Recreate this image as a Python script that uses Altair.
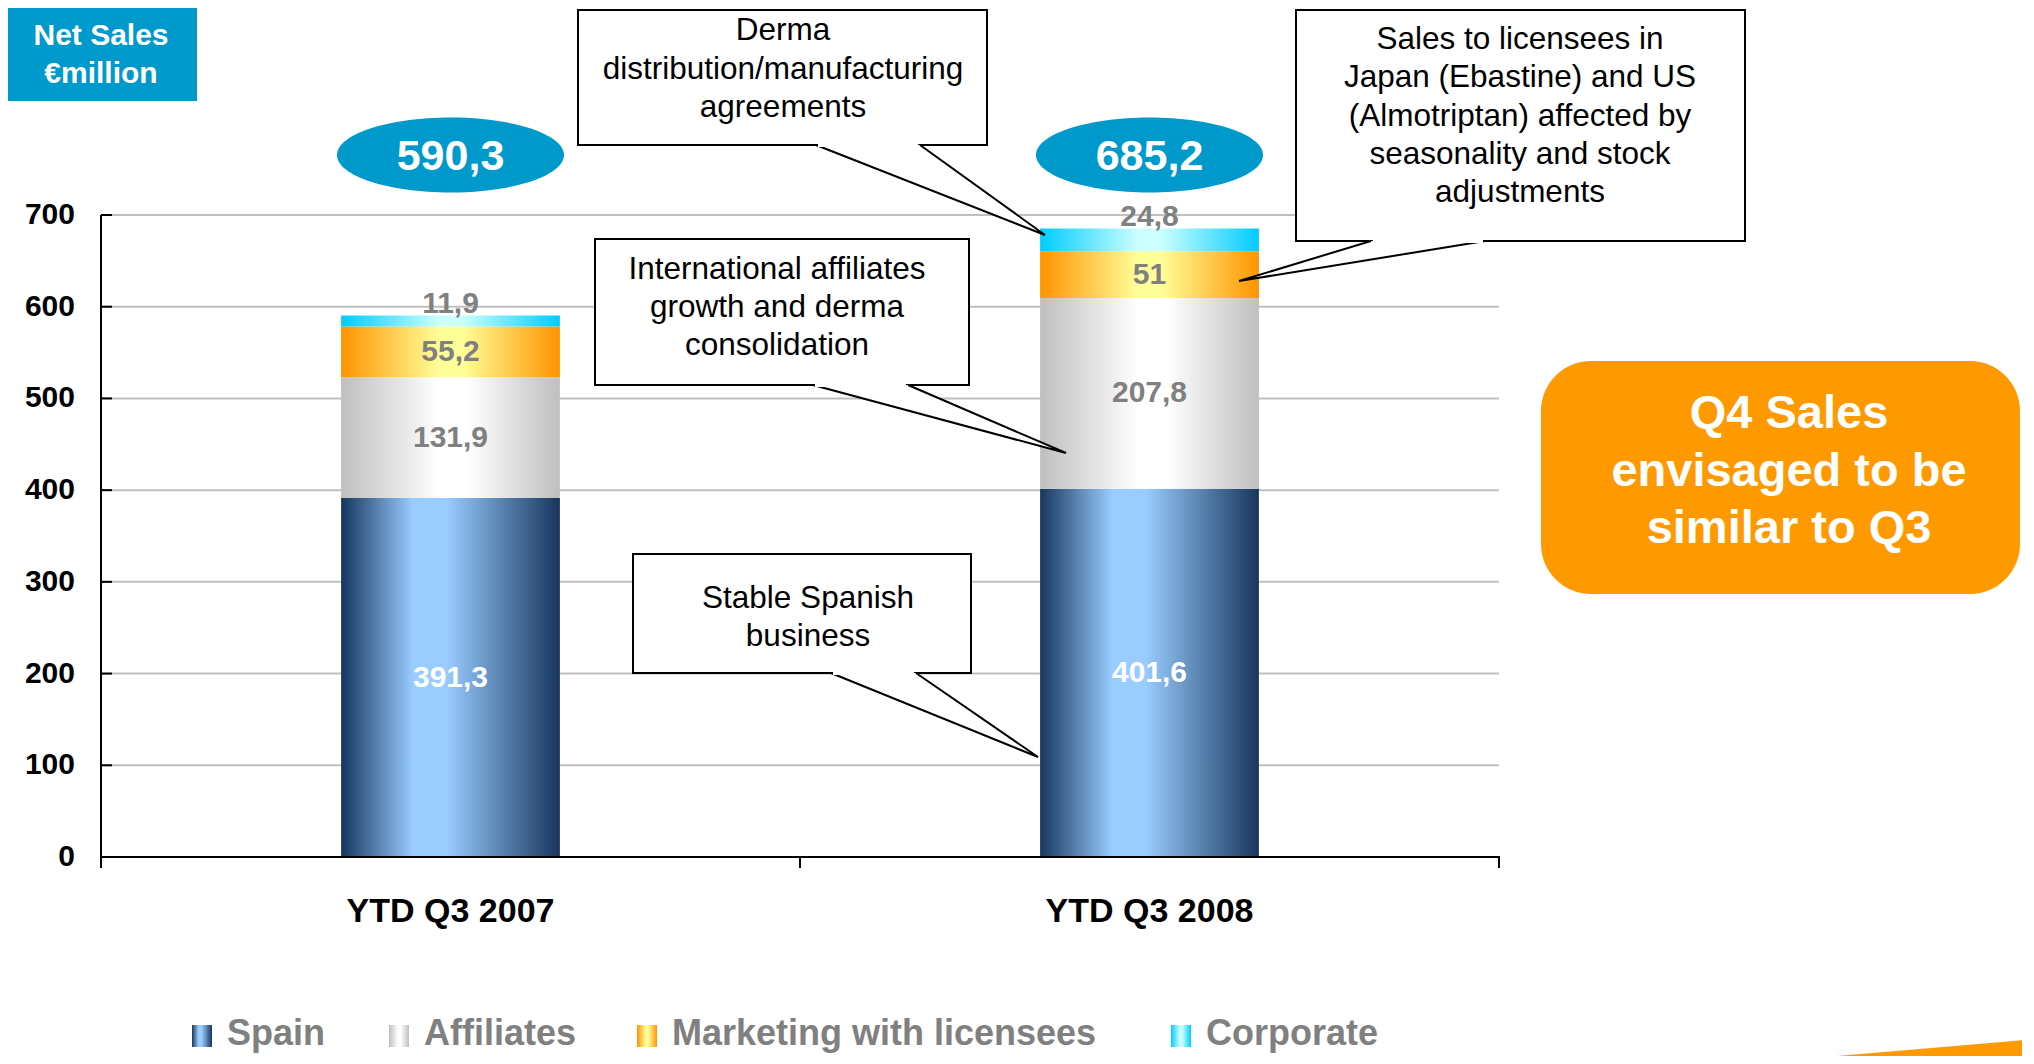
import altair as alt
import pandas as pd

# ---------------- data ----------------
categories = ["YTD Q3 2007", "YTD Q3 2008"]
series = ["Spain", "Affiliates", "Marketing with licensees", "Corporate"]
spain = [391.3, 401.6]
affiliates = [131.9, 207.8]
marketing = [55.2, 51.0]
corporate = [11.9, 24.8]
y_ticks = [0, 100, 200, 300, 400, 500, 600, 700]

callout_texts = [
    ["Derma", "distribution/manufacturing", "agreements"],
    ["Sales to licensees in", "Japan (Ebastine) and US", "(Almotriptan) affected by",
     "seasonality and stock", "adjustments"],
    ["International affiliates", "growth and derma", "consolidation"],
    ["Stable Spanish", "business"],
]
side_note = ["Q4 Sales", "envisaged to be", "similar to Q3"]
unit_title = ["Net Sales", "€million"]

# ---------------- layout (pixels inside the plot area) ----------------
W, H = 1398, 642
FONT = "Liberation Sans"
# x0, x1, y0, y1, tail base left, tail base right, tip x, tip y, text x, first line y, line height
callout_layout = [
    (477, 886, -205, -70, 715, 819, 944, 20, 682, -184, 38.5),
    (1195, 1644, -205, 26, 1270, 1384, 1138, 66, 1419, -175, 38.3),
    (494, 868, 24, 170, 712, 807, 965, 238, 676, 55, 38),
    (532, 870, 339, 458, 730, 815, 937, 542, 707, 384, 38),
]
legend_x = [91, 288, 536, 1070]

rows = []
for si, (s, vals) in enumerate(zip(series, [spain, affiliates, marketing, corporate])):
    for c, v in zip(categories, vals):
        rows.append({"category": c, "series": s, "order": si, "value": v,
                     "label": ("%g" % v).replace(".", ",")})
df = pd.DataFrame(rows)


def grad(edge, mid, lo=0.42, hi=0.55):
    return alt.LinearGradient(
        gradient="linear", x1=0, y1=0, x2=1, y2=0,
        stops=[alt.GradientStop(offset=0, color=edge),
               alt.GradientStop(offset=lo, color=mid),
               alt.GradientStop(offset=hi, color=mid),
               alt.GradientStop(offset=1, color=edge)])


grads = [
    grad("#17365D", "#99CCFF", 0.33, 0.48),
    grad("#BFBFBF", "#FFFFFF", 0.45, 0.58),
    grad("#FF9400", "#FFFF99", 0.45, 0.55),
    grad("#00CCFF", "#CCFFFF", 0.45, 0.55),
]

x_scale = alt.Scale(domain=categories, paddingInner=0.687, paddingOuter=0.3435)
y_scale = alt.Scale(domain=[0, 700], nice=False, zero=True)
X_CAT = alt.X("category:N", scale=x_scale, sort=categories, axis=None)

layers = []
dummy = pd.DataFrame({"d": [0]})
ytick_df = pd.DataFrame({"t": y_ticks})
cat_df = pd.DataFrame({"category": categories})

# gridlines
layers.append(
    alt.Chart(ytick_df).mark_rule(color="#C0C0C0", strokeWidth=2).encode(
        y=alt.Y("t:Q", scale=y_scale, axis=None),
        x=alt.value(0), x2=alt.value(W))
)

base = alt.Chart(df).transform_stack(
    stack="value", groupby=["category"], as_=["y0", "y1"],
    sort=[alt.SortField("order", order="ascending")])

# bars
for i, s in enumerate(series):
    layers.append(
        base.transform_filter(alt.datum.series == s)
        .mark_bar(fill=grads[i], strokeWidth=0)
        .encode(
            x=X_CAT,
            y=alt.Y("y0:Q", scale=y_scale, axis=None),
            y2="y1:Q",
        )
    )

# axis lines
layers.append(
    alt.Chart(dummy).mark_rule(color="black", strokeWidth=2).encode(
        x=alt.value(0), y=alt.value(0), y2=alt.value(H + 1))
)
layers.append(
    alt.Chart(dummy).mark_rule(color="black", strokeWidth=2).encode(
        x=alt.value(-1), x2=alt.value(W + 1), y=alt.value(H))
)
# inward y ticks
layers.append(
    alt.Chart(ytick_df).mark_rule(color="black", strokeWidth=2).encode(
        y=alt.Y("t:Q", scale=y_scale, axis=None),
        x=alt.value(0), x2=alt.value(11))
)
# x ticks at band boundaries
xtick_df = pd.DataFrame({"px": [0, W / 2, W]})
layers.append(
    alt.Chart(xtick_df).mark_rule(color="black", strokeWidth=2).encode(
        x=alt.X("px:Q", scale=None), y=alt.value(H), y2=alt.value(H + 11))
)
# y tick labels
layers.append(
    alt.Chart(ytick_df).mark_text(font=FONT, fontSize=30, fontWeight="bold",
                                  color="black", align="right", baseline="middle").encode(
        y=alt.Y("t:Q", scale=y_scale, axis=None),
        x=alt.value(-26), text="t:Q")
)
# category labels
layers.append(
    alt.Chart(cat_df).mark_text(font=FONT, fontSize=34, fontWeight="bold",
                                color="black", baseline="middle").encode(
        x=X_CAT, y=alt.value(697), text="category:N")
)

# segment labels
layers.append(
    base.transform_filter(alt.datum.series != "Corporate")
    .transform_calculate(mid="(datum.y0 + datum.y1) / 2")
    .mark_text(font=FONT, fontSize=30, fontWeight="bold", baseline="middle")
    .encode(
        x=X_CAT,
        y=alt.Y("mid:Q", scale=y_scale, axis=None),
        text="label:N",
        color=alt.Color("series:N", scale=alt.Scale(
            domain=series, range=["#FFFFFF", "#808080", "#808080", "#808080"]), legend=None),
    )
)
layers.append(
    base.transform_filter(alt.datum.series == "Corporate")
    .mark_text(font=FONT, fontSize=30, fontWeight="bold", baseline="middle",
               dy=-12, color="#808080")
    .encode(
        x=X_CAT,
        y=alt.Y("y1:Q", scale=y_scale, axis=None),
        text="label:N",
    )
)

# callout boxes
cdf = pd.DataFrame([
    {"id": i, "x0": c[0], "x1": c[1], "y0": c[2], "y1": c[3],
     "bl": c[4] + 2, "br": c[5] - 2}
    for i, c in enumerate(callout_layout)])
layers.append(
    alt.Chart(cdf).mark_rect(fill="white", stroke="black", strokeWidth=2).encode(
        x=alt.X("x0:Q", scale=None), x2="x1:Q",
        y=alt.Y("y0:Q", scale=None), y2="y1:Q")
)
tail_rows = []
for i, c in enumerate(callout_layout):
    tail_rows += [
        {"id": i, "o": 0, "px": c[4], "py": c[3]},
        {"id": i, "o": 1, "px": c[6], "py": c[7]},
        {"id": i, "o": 2, "px": c[5], "py": c[3]},
    ]
tdf = pd.DataFrame(tail_rows)
layers.append(
    alt.Chart(tdf).mark_line(fill="white", stroke="black", strokeWidth=2,
                             strokeJoin="miter").encode(
        x=alt.X("px:Q", scale=None), y=alt.Y("py:Q", scale=None),
        detail="id:N", order="o:Q")
)
layers.append(
    alt.Chart(cdf).mark_rule(color="white", strokeWidth=4).encode(
        x=alt.X("bl:Q", scale=None), x2="br:Q", y=alt.Y("y1:Q", scale=None))
)
for lines, c in zip(callout_texts, callout_layout):
    layers.append(
        alt.Chart(dummy).mark_text(font=FONT, fontSize=31.5, color="black",
                                   baseline="middle", align="center",
                                   lineHeight=c[10]).encode(
            x=alt.value(c[8]), y=alt.value(c[9]), text=alt.value(lines))
    )

# totals in ellipses
ELLIPSE = "M -1 0 A 1 0.33 0 1 1 1 0 A 1 0.33 0 1 1 -1 0 Z"
tot = alt.Chart(df).transform_aggregate(
    total="sum(value)", groupby=["category"]).transform_calculate(
    tlabel="replace(format(datum.total, '.1f'), '.', ',')")
layers.append(
    tot.mark_point(shape=ELLIPSE, size=227 * 227, filled=True, fill="#0099CC",
                   opacity=1, strokeWidth=0).encode(x=X_CAT, y=alt.value(-60))
)
layers.append(
    tot.mark_text(font=FONT, fontSize=43, fontWeight="bold", color="white",
                  baseline="middle").encode(x=X_CAT, y=alt.value(-58), text="tlabel:N")
)

# "Net Sales €million" box
layers.append(
    alt.Chart(dummy).mark_rect(fill="#0099CC").encode(
        x=alt.value(-93), x2=alt.value(96), y=alt.value(-207), y2=alt.value(-114))
)
layers.append(
    alt.Chart(dummy).mark_text(font=FONT, fontSize=30, fontWeight="bold", color="white",
                               baseline="middle", align="center", lineHeight=38).encode(
        x=alt.value(0), y=alt.value(-179), text=alt.value(unit_title))
)

# orange side note
layers.append(
    alt.Chart(dummy).mark_rect(fill="#FF9900", cornerRadius=50).encode(
        x=alt.value(1440), x2=alt.value(1919), y=alt.value(146), y2=alt.value(379))
)
layers.append(
    alt.Chart(dummy).mark_text(font=FONT, fontSize=47, fontWeight="bold", color="white",
                               baseline="middle", align="center", lineHeight=57.5).encode(
        x=alt.value(1688), y=alt.value(199), text=alt.value(side_note))
)

# legend (manual, gradient swatches)
for i, s in enumerate(series):
    lx = legend_x[i]
    layers.append(
        alt.Chart(dummy).mark_rect(fill=grads[i], strokeWidth=0).encode(
            x=alt.value(lx), x2=alt.value(lx + 20), y=alt.value(810), y2=alt.value(832))
    )
    layers.append(
        alt.Chart(dummy).mark_text(font=FONT, fontSize=36, fontWeight="bold",
                                   color="#808080", baseline="middle", align="left").encode(
            x=alt.value(lx + 35), y=alt.value(819), text=alt.value(s))
    )

# decorative orange stripe bottom-right
stripe = pd.DataFrame({"px": [1642, 1925], "top": [849, 825], "bot": [860, 860]})
layers.append(
    alt.Chart(stripe).mark_area(color="#FF9900").encode(
        x=alt.X("px:Q", scale=None), y=alt.Y("top:Q", scale=None), y2="bot:Q")
)

chart = alt.layer(*layers).properties(
    width=W, height=H,
    background="white",
    autosize=alt.AutoSizeParams(type="none"),
    padding={"left": 93, "top": 207, "right": 523, "bottom": 199},
).configure_view(stroke=None)

chart.save("out.html", embed_options={"renderer": "svg", "actions": False})
